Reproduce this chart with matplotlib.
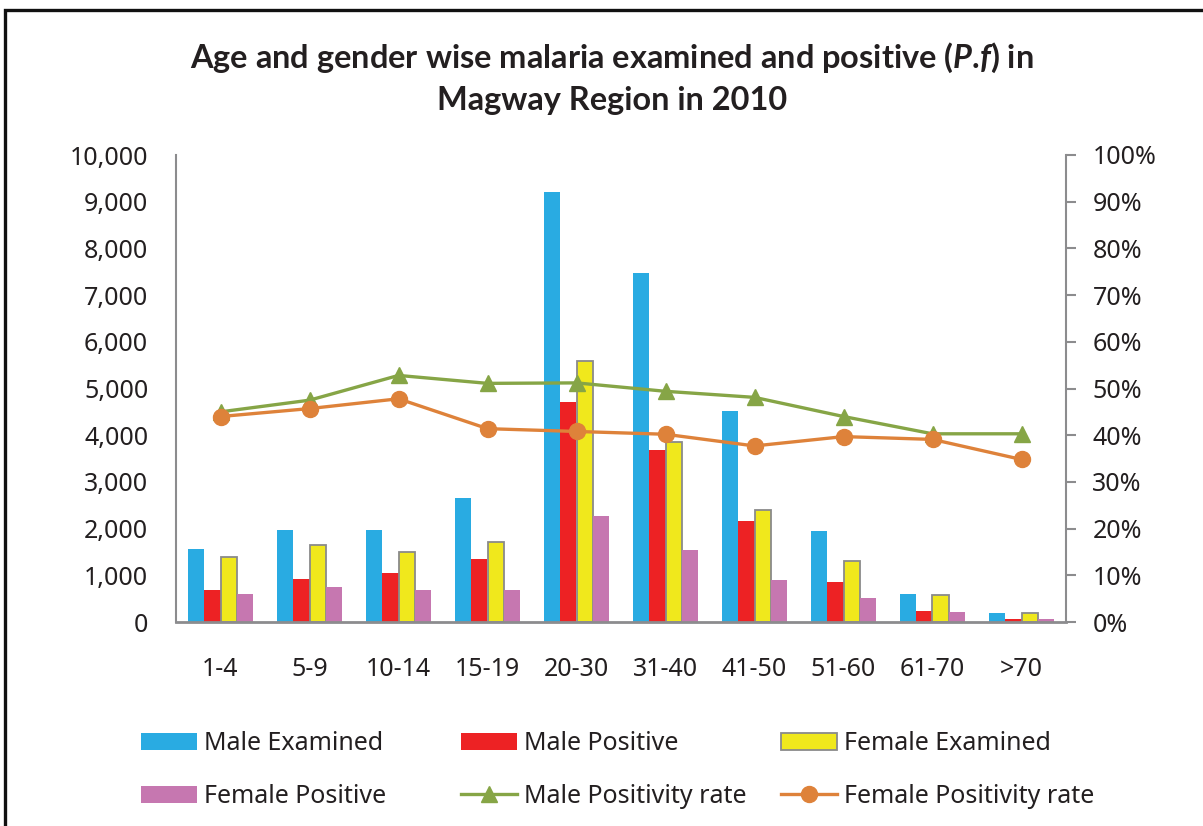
import matplotlib
matplotlib.use("Agg")
import matplotlib.pyplot as plt
import numpy as np
from matplotlib.patches import Rectangle
from matplotlib.ticker import FuncFormatter, MultipleLocator

plt.rcParams['font.family'] = ['Noto Sans', 'DejaVu Sans']
plt.rcParams['mathtext.fontset'] = 'custom'
plt.rcParams['mathtext.rm'] = 'Lato:bold'
plt.rcParams['mathtext.it'] = 'Lato:bold:italic'
plt.rcParams['mathtext.bf'] = 'Lato:bold'

categories = ["1-4", "5-9", "10-14", "15-19", "20-30", "31-40", "41-50", "51-60", "61-70", ">70"]
male_examined = [1565, 1970, 1970, 2655, 9210, 7470, 4520, 1950, 600, 195]
male_positive = [685, 920, 1050, 1350, 4710, 3680, 2160, 860, 236, 64]
female_examined = [1385, 1650, 1490, 1705, 5580, 3850, 2395, 1310, 575, 195]
female_positive = [600, 750, 685, 685, 2270, 1545, 900, 515, 215, 64]
male_rate = [45.0, 47.5, 52.8, 51.1, 51.2, 49.4, 48.1, 44.0, 40.3, 40.3]
female_rate = [44.0, 45.7, 47.8, 41.4, 40.8, 40.2, 37.7, 39.7, 39.1, 34.8]

c_me = "#29ABE2"
c_mp = "#ED2224"
c_fe = "#F0E81C"
c_fp = "#C677B0"
c_mr = "#86A546"
c_fr = "#DE823A"
txt = "#231F20"
grey = "#8C8C8E"

fig = plt.figure(figsize=(12.03, 8.26), dpi=100)
ax = fig.add_axes([176/1203, (826-622)/826, (1066-176)/1203, (622-155)/826])
ax2 = ax.twinx()

x = np.arange(len(categories))
w = 0.182
b1 = ax.bar(x - 1.5*w, male_examined, w, color=c_me, label="Male Examined", zorder=2)
b2 = ax.bar(x - 0.5*w, male_positive, w, color=c_mp, label="Male Positive", zorder=2)
b3 = ax.bar(x + 0.5*w, female_examined, w, color=c_fe, edgecolor="#8a8a8a", linewidth=1.3,
            label="Female Examined", zorder=2)
b4 = ax.bar(x + 1.5*w, female_positive, w, color=c_fp, label="Female Positive", zorder=2)

l1, = ax2.plot(x, male_rate, color=c_mr, lw=2.4, marker="^", ms=11, label="Male Positivity rate")
l2, = ax2.plot(x, female_rate, color=c_fr, lw=2.4, marker="o", ms=11.5, label="Female Positivity rate")

ax.set_xlim(-0.5, len(categories) - 0.5)
ax.set_ylim(0, 10000)
ax2.set_ylim(0, 100)
ax.yaxis.set_major_locator(MultipleLocator(1000))
ax2.yaxis.set_major_locator(MultipleLocator(10))
ax.yaxis.set_major_formatter(FuncFormatter(lambda v, p: f"{int(v):,}"))
ax2.yaxis.set_major_formatter(FuncFormatter(lambda v, p: f"{int(v)}%"))
ax.set_xticks(x)
ax.set_xticklabels(categories)

for a in (ax, ax2):
    for s in a.spines.values():
        s.set_visible(False)
ax.spines['left'].set_visible(True)
ax.spines['left'].set_color(grey)
ax.spines['left'].set_linewidth(1.5)
ax.spines['bottom'].set_visible(True)
ax.spines['bottom'].set_color(grey)
ax.spines['bottom'].set_linewidth(2)
ax2.spines['right'].set_visible(True)
ax2.spines['right'].set_color(grey)
ax2.spines['right'].set_linewidth(1.5)

ax.tick_params(axis='y', length=0, pad=20, labelsize=18, labelcolor=txt)
ax.tick_params(axis='x', length=0, pad=25, labelsize=18, labelcolor=txt)
ax2.tick_params(axis='y', length=7, width=1.5, color=grey, pad=12, labelsize=18, labelcolor=txt)

fig.text(612/1203, 1 - 78/826,
         "Age and gender wise malaria examined and positive ($\\mathit{P}$.$\\mathit{f}$) in\nMagway Region in 2010",
         ha="center", va="center", fontsize=23.4, fontweight="bold", family="Lato",
         color=txt, linespacing=1.45)

columns = [([b1, b4], 136), ([b2, l1], 456), ([b3, l2], 776)]
for hs, xpx in columns:
    leg = fig.legend(hs, [h.get_label() for h in hs], ncol=1, loc="upper left",
                     bbox_to_anchor=(xpx/1203, 1 - 726/826), frameon=False,
                     fontsize=18, handlelength=2.25, handleheight=0.7, handletextpad=0.25,
                     labelspacing=1.12, labelcolor=txt, borderpad=0.2, borderaxespad=0)

fig.patches.append(Rectangle((5/1203, -0.1), 1.2, (816/826) + 0.1, transform=fig.transFigure,
                             fill=False, edgecolor="#111111", linewidth=2.4))

fig.savefig("out.png", dpi=100)
